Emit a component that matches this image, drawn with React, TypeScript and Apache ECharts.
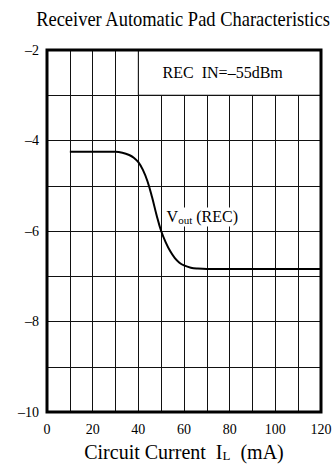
import React, { useEffect, useRef } from 'react';
import * as echarts from 'echarts';

// Receiver output level vs. line current
const currentMA = [10, 20, 30, 33, 36, 38, 40, 42, 44, 46, 48, 50, 52, 54, 56, 58, 60, 63, 66, 70, 120];
const voutDb = [-4.25, -4.25, -4.25, -4.27, -4.32, -4.38, -4.48, -4.65, -4.9, -5.25, -5.65, -6.0, -6.25, -6.45, -6.6, -6.7, -6.76, -6.81, -6.83, -6.84, -6.84];

const xTicks = [0, 20, 40, 60, 80, 100, 120];
const yTicks = [-10, -8, -6, -4, -2];

const titleText = 'Receiver Automatic Pad Characteristics';
const conditionText = 'REC  IN=\u201355dBm';

const SERIF = '"Liberation Serif", "Times New Roman", serif';

export default function App() {
  const ref = useRef<HTMLDivElement>(null);

  useEffect(() => {
    if (!ref.current) return;
    const chart = echarts.init(ref.current, undefined, { renderer: 'svg' });
    const dash = (v: number) => String(v).replace('-', '\u2013');

    chart.setOption({
      animation: false,
      backgroundColor: '#fff',
      textStyle: { fontFamily: SERIF, color: '#000' },
      graphic: [
        {
          type: 'text',
          x: 183,
          y: 18,
          scaleX: 0.84,
          style: {
            text: titleText,
            textAlign: 'center',
            textVerticalAlign: 'middle',
            font: `22px ${SERIF}`,
            fill: '#000',
          },
        },
      ],
      grid: {
        left: 47,
        right: 14,
        top: 50,
        bottom: 56,
        show: true,
        z: 5,
        borderColor: '#000',
        borderWidth: 3,
        backgroundColor: 'transparent',
      },
      xAxis: {
        type: 'value',
        min: 0,
        max: 120,
        interval: 10,
        axisLine: { show: false },
        axisTick: { show: false },
        axisLabel: {
          fontFamily: SERIF,
          fontSize: 14,
          color: '#000',
          margin: 10,
          formatter: (v: number) => (xTicks.includes(v) ? String(v) : ''),
        },
        splitLine: { show: true, lineStyle: { color: '#111', width: 1 } },
        name: '{n|Circuit Current  I}{s|L}{n|  (mA)}',
        nameLocation: 'middle',
        nameGap: 30,
        nameTextStyle: {
          rich: {
            n: { fontFamily: SERIF, fontSize: 20, color: '#000' },
            s: { fontFamily: SERIF, fontSize: 13, color: '#000', padding: [7, 0, 0, 0] },
          },
        },
      },
      yAxis: {
        type: 'value',
        min: -10,
        max: -2,
        interval: 1,
        axisLine: { show: false },
        axisTick: { show: false },
        axisLabel: {
          fontFamily: SERIF,
          fontSize: 14,
          color: '#000',
          margin: 8,
          formatter: (v: number) => (yTicks.includes(v) ? dash(v) : ''),
        },
        splitLine: { show: true, lineStyle: { color: '#111', width: 1 } },
      },
      series: [
        {
          type: 'line',
          data: currentMA.map((x, i) => [x, voutDb[i]]),
          smooth: 0.4,
          symbol: 'none',
          z: 3,
          lineStyle: { color: '#000', width: 2 },
          markArea: {
            silent: true,
            itemStyle: { color: '#fff', borderColor: '#000', borderWidth: 1, opacity: 1 },
            label: {
              show: true,
              position: 'inside',
              offset: [-7, 0],
              fontFamily: SERIF,
              fontSize: 16,
              color: '#000',
              formatter: conditionText,
            },
            data: [[{ xAxis: 40, yAxis: -3 }, { xAxis: 120, yAxis: -2 }]],
          },
          markPoint: {
            silent: true,
            symbol: 'rect',
            symbolSize: 0,
            label: {
              show: true,
              position: 'inside',
              backgroundColor: '#fff',
              padding: [1, 1],
              formatter: '{n|V}{s|out}{n| (REC)}',
              rich: {
                n: { fontFamily: SERIF, fontSize: 16, color: '#000' },
                s: { fontFamily: SERIF, fontSize: 11, color: '#000', padding: [6, 0, 0, 0] },
              },
            },
            data: [{ coord: [68, -5.69] }],
          },
        },
      ],
    });

    return () => chart.dispose();
  }, []);

  return (
    <div
      ref={ref}
      style={{ position: 'fixed', left: 0, top: 0, width: 335, height: 468 }}
    />
  );
}
